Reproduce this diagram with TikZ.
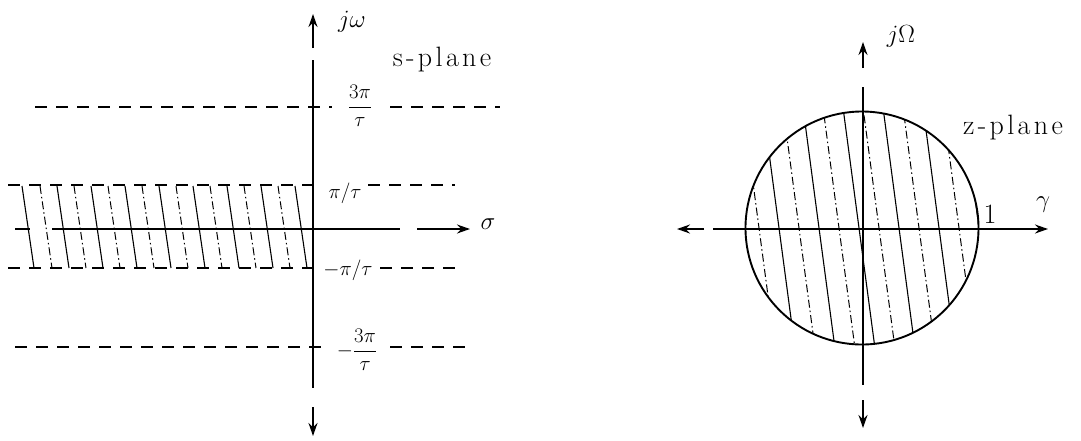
\documentclass[tikz,border=0pt]{standalone}
\usepackage{fontspec}
\setmainfont{Latin Modern Roman}
\newfontfamily\wideword[LetterSpace=12.0]{Latin Modern Roman}
\usetikzlibrary{arrows.meta}
\begin{document}
\begin{tikzpicture}[x=1pt,y=-1pt,
  axis/.style={line width=1.7pt},
  tip/.style={-{Stealth[length=13pt,width=9pt]}},
  gridline/.style={line width=1.4pt, dash pattern=on 12pt off 9pt},
  hatchA/.style={line width=1.1pt},
  hatchB/.style={line width=1.0pt, dash pattern=on 8pt off 3pt on 1.5pt off 3pt},
  lbl/.style={inner sep=1pt, font=\fontsize{28}{30}\selectfont},
  word/.style={inner sep=1pt, font=\wideword\fontsize{28}{30}\selectfont},
  frac/.style={inner sep=1pt, font=\fontsize{22}{24}\selectfont}]
\useasboundingbox (0,0) rectangle (1081,440);

% ---------- s-plane ----------
% hatching of strip
\foreach \x [count=\i] in {22,40,57,74,91,108,125,142,159,176,193,210,227,244,261,278,295}{
  \ifodd\i
    \draw[hatchA] (\x,186) -- ++(12,82);
  \else
    \draw[hatchB] (\x,186) -- ++(12,82);
  \fi
}
% horizontal dashed lines
\coordinate (g3a) at (35,107);  \coordinate (g3b) at (332,107);
\coordinate (g3c) at (390,107); \coordinate (g3d) at (500,107);
\coordinate (g1a) at (8,185);   \coordinate (g1b) at (322,185);
\coordinate (g1c) at (368,185); \coordinate (g1d) at (455,185);
\coordinate (h1a) at (8,268);   \coordinate (h1b) at (318,268);
\coordinate (h1c) at (380,268); \coordinate (h1d) at (455,268);
\coordinate (h3a) at (15,347);  \coordinate (h3b) at (325,347);
\coordinate (h3c) at (390,347); \coordinate (h3d) at (467,347);
\draw[gridline] (g3a) -- (g3b); \draw[gridline] (g3c) -- (g3d);
\draw[gridline] (g1a) -- (g1b); \draw[gridline] (g1c) -- (g1d);
\draw[gridline] (h1a) -- (h1b); \draw[gridline] (h1c) -- (h1d);
\draw[gridline] (h3a) -- (h3b); \draw[gridline] (h3c) -- (h3d);

% vertical axis
\coordinate (sTop) at (313,14);  \coordinate (sA) at (313,48);
\coordinate (sB) at (313,60);    \coordinate (sC) at (313,388);
\coordinate (sD) at (313,407);   \coordinate (sBot) at (313,436);
\draw[axis,tip] (sA) -- (sTop);
\draw[axis] (sB) -- (sC);
\draw[axis,tip] (sD) -- (sBot);

% sigma axis
\coordinate (xa) at (15,229); \coordinate (xb) at (30,229);
\coordinate (xc) at (52,229); \coordinate (xd) at (400,229);
\coordinate (xe) at (417,229); \coordinate (xf) at (470,229);
\draw[axis] (xa) -- (xb);
\draw[axis] (xc) -- (xd);
\draw[axis,tip] (xe) -- (xf);

% labels
\node[lbl] (jw) at (352,22) {$j\omega$};
\node[word] (splane) at (442,60) {s-plane};
\node[frac] (l3p) at (360,106) {$\displaystyle\frac{3\pi}{\tau}$};
\node[frac] (l1p) at (345,193) {$\pi/\tau$};
\node[frac] (m1p) at (348,270) {$-\pi/\tau$};
\node[frac] (m3p) at (357,350) {$-\displaystyle\frac{3\pi}{\tau}$};
\node[lbl] (sigma) at (488,224) {$\sigma$};

% ---------- z-plane ----------
\coordinate (zc0) at (862,228);
\begin{scope}
  \clip (zc0) circle[radius=116];
  \foreach \x [count=\i] in {722,742,762,782,802,822,842,862,882,902,922,942,962,982}{
    \ifodd\i
      \draw[hatchA] (\x,100) -- ++(34,256);
    \else
      \draw[hatchB] (\x,100) -- ++(34,256);
    \fi
  }
\end{scope}
\node[circle, draw, line width=1.9pt, minimum size=233pt, inner sep=0pt] (zcirc) at (zc0) {};

% vertical axis
\coordinate (zTop) at (863,42);  \coordinate (zA) at (863,68);
\coordinate (zB) at (863,87);    \coordinate (zC) at (863,385);
\coordinate (zD) at (863,400);   \coordinate (zBot) at (863,428);
\draw[axis,tip] (zA) -- (zTop);
\draw[axis] (zB) -- (zC);
\draw[axis,tip] (zD) -- (zBot);

% horizontal axis
\coordinate (zL) at (677,229); \coordinate (zLa) at (704,229);
\coordinate (zLb) at (713,229); \coordinate (zR) at (1048,229);
\draw[axis,tip] (zLa) -- (zL);
\draw[axis,tip] (zLb) -- (zR);

% labels
\node[lbl] (jO) at (901,36) {$j\Omega$};
\node[word] (zplane) at (1013,128) {z-plane};
\node[lbl] (one) at (990,214) {1};
\node[lbl] (gam) at (1043,205) {$\gamma$};
\end{tikzpicture}
\end{document}
